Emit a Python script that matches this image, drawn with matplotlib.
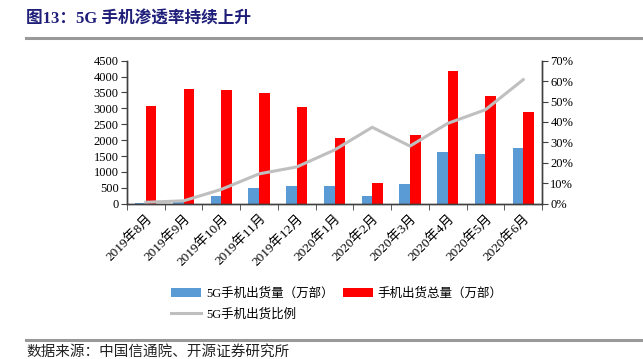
import numpy as np
import matplotlib.pyplot as plt
from matplotlib.ticker import FuncFormatter

plt.rcParams['font.family'] = ['Liberation Serif', 'Noto Sans CJK SC', 'DejaVu Sans']

months = ['2019年8月', '2019年9月', '2019年10月', '2019年11月', '2019年12月',
          '2020年1月', '2020年2月', '2020年3月', '2020年4月', '2020年5月', '2020年6月']
shipments_5g = [21.9, 49.7, 249.3, 507.4, 548.3, 546.5, 238.9, 614.5, 1638.2, 1554.2, 1750.5]
shipments_total = [3084, 3620, 3587, 3480, 3042, 2082, 638, 2176, 4172, 3379, 2876]
share_5g = [0.7, 1.4, 7.0, 14.6, 18.0, 26.3, 37.4, 28.2, 39.3, 46.0, 60.7]

fig = plt.figure(figsize=(6.43, 3.59), dpi=100)
ax = fig.add_axes([0.1975, 0.4326, 0.6455, 0.3984])
ax2 = ax.twinx()

x = np.arange(len(months))
w = 0.28
b1 = ax.bar(x - w / 2, shipments_5g, w, color='#5B9BD5', label='5G手机出货量（万部）', zorder=2)
b2 = ax.bar(x + w / 2, shipments_total, w, color='#FF0000', label='手机出货总量（万部）', zorder=2)
l1, = ax2.plot(x, share_5g, color='#BFBFBF', lw=2.2, label='5G手机出货比例')

ax.set_xlim(-0.5, len(months) - 0.5)
ax.set_ylim(0, 4500)
ax.set_yticks(range(0, 4501, 500))
ax2.set_ylim(0, 70)
ax2.set_yticks(range(0, 71, 10))
ax2.yaxis.set_major_formatter(FuncFormatter(lambda v, p: f'{v:.0f}%'))

ax.set_xticks(x)
ax.set_xticklabels(months, rotation=45, ha='right', va='top', rotation_mode='anchor', fontsize=9.5)
ax.tick_params(axis='x', length=0, pad=6)
ax.set_xticks(np.arange(-0.5, len(months), 1), minor=True)
ax.tick_params(axis='x', which='minor', length=4, direction='out', color='#404040')
ax.tick_params(axis='y', labelsize=9, length=4, color='#404040', pad=2)
ax2.tick_params(axis='y', labelsize=9, length=4, color='#404040', pad=2)

for a in (ax, ax2):
    a.spines['top'].set_visible(False)
    for s in ('left', 'right', 'bottom'):
        a.spines[s].set_color('#404040')
        a.spines[s].set_linewidth(1.0)

fig.legend([b1, l1, b2], ['5G手机出货量（万部）', '5G手机出货比例', '手机出货总量（万部）'],
           ncol=2, loc='upper left', bbox_to_anchor=(165 / 643, 1 - 281 / 359),
           frameon=False, handlelength=2.4, handletextpad=0.4,
           columnspacing=0.7, labelspacing=0.7, borderpad=0,
           prop={'family': ['Liberation Serif', 'Noto Sans CJK SC'], 'size': 9})

fig.text(26 / 643, 1 - 20 / 359, '图13：5G 手机渗透率持续上升', fontsize=12, fontweight='bold',
         color='#1F1F7A', va='center', ha='left')
fig.add_artist(plt.Line2D([26 / 643, 641 / 643], [1 - 37.5 / 359] * 2, color='#999999', lw=2.2))
fig.add_artist(plt.Line2D([26 / 643, 641 / 643], [1 - 340 / 359] * 2, color='#999999', lw=2.2))
fig.text(26 / 643, 1 - 352 / 359, '数据来源：中国信通院、开源证券研究所', fontsize=10.5,
         color='#222222', va='center', ha='left')

fig.savefig('out.png', dpi=100)
